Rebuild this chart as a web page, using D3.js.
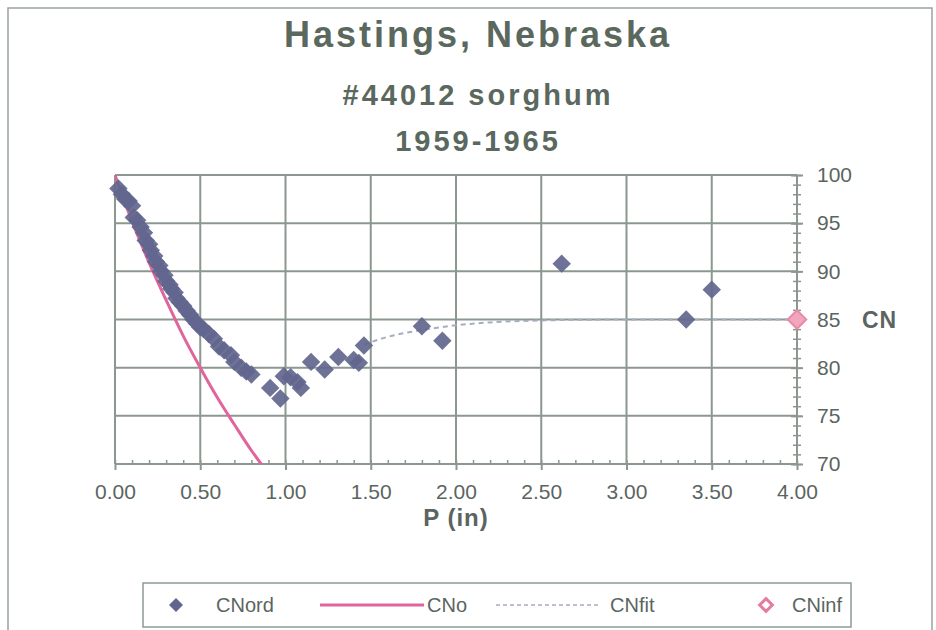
<!DOCTYPE html>
<html>
<head>
<meta charset="utf-8">
<script src="https://cdn.jsdelivr.net/npm/d3@7"></script>
<style>
  body { margin: 0; background: #fff; }
  text { font-family: 'Liberation Sans', Arial, sans-serif; fill: #5b655f; }
</style>
</head>
<body>
<script>
const titleLines = ['Hastings, Nebraska', '#44012 sorghum', '1959-1965'];

// CNord: ordered P / CN pairs
const cnordP = [0.02, 0.04, 0.06, 0.08, 0.10, 0.11, 0.13, 0.15, 0.17, 0.18, 0.20, 0.21, 0.23, 0.24,
  0.26, 0.27, 0.29, 0.30, 0.32, 0.33, 0.35, 0.36, 0.38, 0.40, 0.42, 0.44, 0.46, 0.48, 0.50, 0.52,
  0.55, 0.58, 0.61, 0.64, 0.68, 0.70, 0.74, 0.77, 0.80, 0.91, 0.97, 0.99, 1.03, 1.07, 1.09, 1.15,
  1.23, 1.31, 1.40, 1.43, 1.46, 1.80, 1.92, 2.62, 3.35, 3.50];
const cnordCN = [98.6, 98.0, 97.5, 97.3, 96.8, 95.6, 95.3, 94.6, 94.0, 93.2, 92.8, 92.2, 91.6, 91.0,
  90.6, 90.0, 89.6, 89.0, 88.6, 88.2, 87.8, 87.2, 86.8, 86.4, 85.9, 85.5, 85.0, 84.6, 84.2, 84.0,
  83.5, 83.0, 82.2, 81.8, 81.3, 80.6, 80.0, 79.6, 79.3, 77.9, 76.8, 79.1, 79.0, 78.5, 77.9, 80.6,
  79.8, 81.1, 80.8, 80.5, 82.3, 84.3, 82.8, 90.8, 85.0, 88.1];

// CNo curve
const cnoP = [0, 0.1, 0.2, 0.3, 0.4, 0.5, 0.6, 0.7, 0.8, 0.9];
const cnoCN = [100, 95.2, 90.9, 87.0, 83.3, 80.0, 76.9, 74.1, 71.4, 69.0];

// CNfit curve
const cnfitP = [1.46, 1.6, 1.8, 2.0, 2.2, 2.5, 3.0, 3.5, 4.0];
const cnfitCN = [82.4, 83.2, 83.9, 84.4, 84.7, 84.9, 85.0, 85.0, 85.0];

// CNinf
const cninfP = [4.0];
const cninfCN = [85];

const xTicks = [0, 0.5, 1, 1.5, 2, 2.5, 3, 3.5, 4];
const yTicks = [70, 75, 80, 85, 90, 95, 100];
const legendLabels = ['CNord', 'CNo', 'CNfit', 'CNinf'];

const width = 936;
const height = 630;
const gridColor = '#8c978f';

const svg = d3.select('body')
  .append('svg')
  .attr('width', width)
  .attr('height', height);

const x = d3.scaleLinear().domain([0, 4]).range([115, 797]);
const y = d3.scaleLinear().domain([70, 100]).range([464, 175]);

// outer frame
svg.append('rect')
  .attr('x', 8).attr('y', 8)
  .attr('width', 924).attr('height', 650)
  .attr('fill', 'none')
  .attr('stroke', '#9aa39e')
  .attr('stroke-width', 1.5);

// titles
const titleY = [47, 105, 151];
svg.selectAll('.title')
  .data(titleLines)
  .enter()
  .append('text')
  .attr('class', 'title')
  .attr('x', 478)
  .attr('y', (d, i) => titleY[i])
  .attr('text-anchor', 'middle')
  .style('font-weight', 'bold')
  .style('font-size', (d, i) => i === 0 ? '36px' : '29px')
  .style('letter-spacing', (d, i) => i === 0 ? '3px' : '3px')
  .style('fill', '#5a685e')
  .text(d => d);

// grid
const grid = svg.append('g').attr('class', 'grid');
grid.selectAll('.vgrid')
  .data(xTicks)
  .enter()
  .append('line')
  .attr('x1', d => x(d)).attr('x2', d => x(d))
  .attr('y1', y(100)).attr('y2', y(70))
  .attr('stroke', gridColor)
  .attr('stroke-width', 2);
grid.selectAll('.hgrid')
  .data(yTicks)
  .enter()
  .append('line')
  .attr('x1', x(0)).attr('x2', x(4))
  .attr('y1', d => y(d)).attr('y2', d => y(d))
  .attr('stroke', gridColor)
  .attr('stroke-width', 2);

// x axis: minor ticks (inward) then major ticks + labels
const xMinor = svg.append('g')
  .attr('transform', `translate(0,${ y(70) })`)
  .call(d3.axisBottom(x).tickValues(d3.range(0, 41).map(i => i / 10)).tickSize(-4).tickFormat(''));
xMinor.select('.domain').remove();
xMinor.selectAll('line').attr('stroke', gridColor).attr('stroke-width', 1.5);

const xAxis = svg.append('g')
  .attr('transform', `translate(0,${ y(70) })`)
  .call(d3.axisBottom(x)
    .tickValues(xTicks)
    .tickFormat(d3.format('.2f'))
    .tickSizeInner(6)
    .tickSizeOuter(0)
    .tickPadding(14));
xAxis.select('.domain').remove();
xAxis.selectAll('line').attr('stroke', gridColor).attr('stroke-width', 2);
xAxis.selectAll('text')
  .style('font-size', '21px')
  .style('fill', '#5b655f');

// y axis on the right
const yMinor = svg.append('g')
  .attr('transform', `translate(${ x(4) },0)`)
  .call(d3.axisRight(y).tickValues(d3.range(70, 101)).tickSize(4).tickFormat(''));
yMinor.select('.domain').remove();
yMinor.selectAll('line').attr('x1', -4).attr('stroke', gridColor).attr('stroke-width', 1.5);

const yAxis = svg.append('g')
  .attr('transform', `translate(${ x(4) },0)`)
  .call(d3.axisRight(y).tickValues(yTicks).tickSize(6).tickPadding(14));
yAxis.select('.domain').remove();
yAxis.selectAll('line').attr('x1', -6).attr('stroke', gridColor).attr('stroke-width', 2);
yAxis.selectAll('text')
  .style('font-size', '21px')
  .style('fill', '#5b655f');

// axis titles
svg.append('text')
  .attr('x', 456)
  .attr('y', 526)
  .attr('text-anchor', 'middle')
  .style('font-weight', 'bold')
  .style('font-size', '24px')
  .style('letter-spacing', '1px')
  .text('P (in)');

svg.append('text')
  .attr('x', 862)
  .attr('y', y(85))
  .attr('dy', '0.36em')
  .style('font-weight', 'bold')
  .style('font-size', '23px')
  .style('letter-spacing', '1px')
  .text('CN');

// series
const diamond = {
  draw(context, size) {
    const r = Math.sqrt(size / 2);
    context.moveTo(0, -r);
    context.lineTo(r, 0);
    context.lineTo(0, r);
    context.lineTo(-r, 0);
    context.closePath();
  }
};

svg.append('clipPath')
  .attr('id', 'plot-clip')
  .append('rect')
  .attr('x', x(0)).attr('y', y(100))
  .attr('width', x(4) - x(0)).attr('height', y(70) - y(100));

const line = d3.line()
  .x(d => x(d[0]))
  .y(d => y(d[1]))
  .curve(d3.curveMonotoneX);

svg.append('path')
  .datum(cnoP.map((p, i) => [p, cnoCN[i]]))
  .attr('clip-path', 'url(#plot-clip)')
  .attr('d', line)
  .attr('fill', 'none')
  .attr('stroke', '#e0659c')
  .attr('stroke-width', 3);

svg.append('path')
  .datum(cnfitP.map((p, i) => [p, cnfitCN[i]]))
  .attr('d', line)
  .attr('fill', 'none')
  .attr('stroke', '#a6adc0')
  .attr('stroke-width', 2)
  .attr('stroke-dasharray', '5,4');

svg.append('g')
  .selectAll('path')
  .data(cnordP.map((p, i) => [p, cnordCN[i]]))
  .enter()
  .append('path')
  .attr('transform', d => `translate(${ x(d[0]) },${ y(d[1]) })`)
  .attr('d', d3.symbol().type(diamond).size(170))
  .attr('fill', '#62668e')
  .attr('opacity', 0.92);

svg.append('g')
  .selectAll('path')
  .data(cninfP.map((p, i) => [p, cninfCN[i]]))
  .enter()
  .append('path')
  .attr('transform', d => `translate(${ x(d[0]) },${ y(d[1]) })`)
  .attr('d', d3.symbol().type(diamond).size(170))
  .attr('fill', '#f2a6bd')
  .attr('stroke', '#e88aa8')
  .attr('stroke-width', 2);

// legend
const legend = svg.append('g').attr('class', 'legend');
legend.append('rect')
  .attr('x', 143).attr('y', 583)
  .attr('width', 708).attr('height', 44)
  .attr('fill', '#fff')
  .attr('stroke', '#8f9a94')
  .attr('stroke-width', 1.5);

const legendY = 605;
legend.append('path')
  .attr('transform', `translate(176,${ legendY })`)
  .attr('d', d3.symbol().type(diamond).size(98))
  .attr('fill', '#62668e');
legend.append('line')
  .attr('x1', 320).attr('x2', 424)
  .attr('y1', legendY).attr('y2', legendY)
  .attr('stroke', '#e0659c').attr('stroke-width', 3);
legend.append('line')
  .attr('x1', 496).attr('x2', 598)
  .attr('y1', legendY).attr('y2', legendY)
  .attr('stroke', '#a6adc0').attr('stroke-width', 1.5)
  .attr('stroke-dasharray', '4,3');
legend.append('path')
  .attr('transform', `translate(766,${ legendY })`)
  .attr('d', d3.symbol().type(diamond).size(80))
  .attr('fill', '#fff')
  .attr('stroke', '#e77b9c')
  .attr('stroke-width', 3);

const legendX = [216, 427, 610, 792];
legend.selectAll('.legend-label')
  .data(legendLabels)
  .enter()
  .append('text')
  .attr('class', 'legend-label')
  .attr('x', (d, i) => legendX[i])
  .attr('y', legendY)
  .attr('dy', '0.36em')
  .style('font-size', '20px')
  .text(d => d);
</script>
</body>
</html>
